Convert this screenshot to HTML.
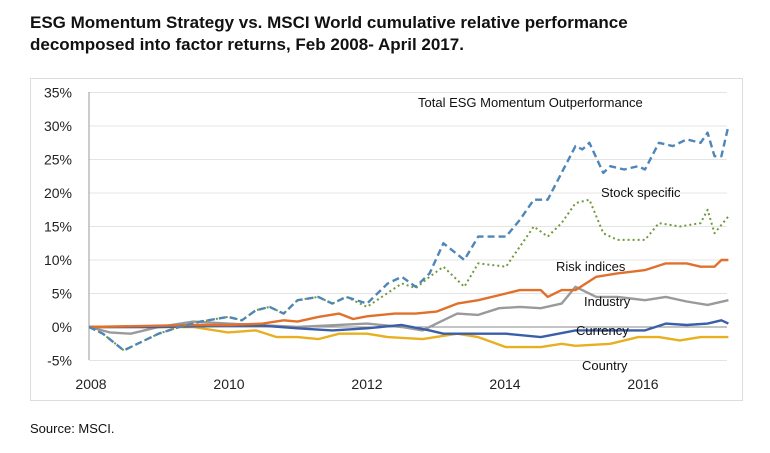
<!DOCTYPE html><html><head><style>
body{margin:0;background:#fff;width:770px;height:448px;overflow:hidden;font-family:"Liberation Sans",Arial,sans-serif}
</style></head><body>
<svg width="770" height="448" xmlns="http://www.w3.org/2000/svg" font-family="Liberation Sans, Arial, sans-serif">
<text x="30" y="28" font-size="17" font-weight="bold" fill="#111">ESG Momentum Strategy vs. MSCI World cumulative relative performance</text>
<text x="30" y="50" font-size="17" font-weight="bold" fill="#111">decomposed into factor returns, Feb 2008- April 2017.</text>
<rect x="30.5" y="78.5" width="712" height="322" fill="none" stroke="#ddd"/>
<g id="grid" stroke="#e4e4e4" stroke-width="1"></g>
<line x1="89" y1="92" x2="89" y2="360" stroke="#999"/>
<line x1="89" y1="327" x2="727" y2="327" stroke="#8a8a8a"/>
<g id="ylab" font-size="14" fill="#222" text-anchor="end"></g>
<g font-size="14" fill="#222" text-anchor="middle">
<text x="91" y="389">2008</text><text x="229" y="389">2010</text><text x="367" y="389">2012</text><text x="505" y="389">2014</text><text x="643" y="389">2016</text>
</g>
<g id="series" fill="none" stroke-linejoin="round"></g>
<g font-size="13" fill="#111">
<text x="418" y="107">Total ESG Momentum Outperformance</text>
<text x="601" y="197">Stock specific</text>
<text x="556" y="271">Risk indices</text>
<text x="584" y="306">Industry</text>
<text x="576" y="335">Currency</text>
<text x="582" y="370">Country</text>
</g>
<text x="30" y="433" font-size="13" fill="#111">Source: MSCI.</text>
</svg>
<script>
const NS="http://www.w3.org/2000/svg";
function py(v){return 327-6.7*v}
function px(t){return 89+69.5*(t-2008)}
const g=document.getElementById('grid'),yl=document.getElementById('ylab');
for(let v=35;v>=-5;v-=5){
 if(v!==0){const l=document.createElementNS(NS,'line');l.setAttribute('x1',89);l.setAttribute('x2',727);l.setAttribute('y1',py(v));l.setAttribute('y2',py(v));g.appendChild(l);}
 const t=document.createElementNS(NS,'text');t.setAttribute('x',72);t.setAttribute('y',py(v)+5);t.textContent=v+'%';yl.appendChild(t);
}
const S=[
["#e8b020",2.4,"",[2008,0,2009.5,0,2010,-0.8,2010.4,-0.5,2010.7,-1.5,2011,-1.5,2011.3,-1.8,2011.6,-1,2012,-1,2012.3,-1.5,2012.8,-1.8,2013.3,-1,2013.6,-1.5,2014,-3,2014.5,-3,2014.8,-2.5,2015,-2.8,2015.5,-2.5,2015.9,-1.5,2016.2,-1.5,2016.5,-2,2016.8,-1.5,2017,-1.5,2017.2,-1.5]],
["#9a9a9a",2.4,"",[2008,0,2008.3,-0.8,2008.6,-1,2009,0,2009.5,0.8,2010,0.5,2011,0,2012,0.5,2012.5,0,2012.8,-0.5,2013,0.5,2013.3,2,2013.6,1.8,2013.9,2.8,2014.2,3,2014.5,2.8,2014.8,3.5,2015,6,2015.3,4.5,2015.6,4.5,2016,4,2016.3,4.5,2016.6,3.8,2016.9,3.3,2017.2,4]],
["#3a5fa8",2.4,"",[2008,0,2009,0,2010,0.2,2010.5,0.2,2011,-0.2,2011.5,-0.5,2012,-0.2,2012.5,0.3,2012.9,-0.5,2013.1,-1,2013.5,-1,2014,-1,2014.5,-1.5,2015,-0.5,2015.5,-0.5,2016,-0.5,2016.3,0.5,2016.6,0.3,2016.9,0.5,2017.1,1,2017.2,0.5]],
["#e0702c",2.4,"",[2008,0,2009.5,0.3,2010,0.3,2010.5,0.5,2010.8,1,2011,0.8,2011.3,1.5,2011.6,2,2011.8,1.2,2012,1.6,2012.4,2,2012.7,2,2013,2.3,2013.3,3.5,2013.6,4,2014,5,2014.2,5.5,2014.5,5.5,2014.6,4.5,2014.8,5.5,2015,5.5,2015.3,7.5,2015.6,8,2016,8.5,2016.3,9.5,2016.6,9.5,2016.8,9,2017,9,2017.1,10,2017.2,10]],
["#6f9a3c",2,"2 3",[2008,0,2008.2,-1,2008.5,-3.5,2008.8,-2,2009,-1,2009.3,0,2009.6,0.8,2010,1.5,2010.2,1,2010.4,2.5,2010.6,3,2010.8,2,2011,4,2011.3,4.5,2011.5,3.5,2011.7,4.5,2012,3,2012.5,6.5,2012.7,5.8,2012.9,7.5,2013.1,9,2013.4,6,2013.6,9.5,2014,9,2014.2,12,2014.4,15,2014.6,13.5,2014.8,15.5,2015,18.5,2015.2,19,2015.4,14,2015.6,13,2015.8,13,2016,13,2016.2,15.5,2016.5,15,2016.8,15.5,2016.9,17.5,2017,14,2017.2,16.5]],
["#4f86b8",2.4,"7 4",[2008,0,2008.2,-1,2008.5,-3.5,2008.8,-2,2009,-1,2009.3,0,2009.6,0.8,2010,1.5,2010.2,1,2010.4,2.5,2010.6,3,2010.8,2,2011,4,2011.3,4.5,2011.5,3.5,2011.7,4.5,2012,3.5,2012.3,6.5,2012.5,7.5,2012.7,6,2012.9,8,2013.1,12.5,2013.4,10,2013.6,13.5,2014,13.5,2014.2,16,2014.4,19,2014.6,19,2014.8,23,2015,27,2015.1,26.5,2015.2,27.5,2015.4,23,2015.5,24,2015.7,23.5,2015.9,24,2016,23.5,2016.2,27.5,2016.4,27,2016.6,28,2016.8,27.5,2016.9,29,2017,25.5,2017.1,25.5,2017.2,30]]
];
const sg=document.getElementById('series');
S.forEach(([c,w,d,a])=>{let p=[];for(let i=0;i<a.length;i+=2)p.push(px(a[i]).toFixed(1)+','+py(a[i+1]).toFixed(1));
const l=document.createElementNS(NS,'polyline');l.setAttribute('points',p.join(' '));l.setAttribute('stroke',c);l.setAttribute('stroke-width',w);if(d)l.setAttribute('stroke-dasharray',d);sg.appendChild(l);});
</script>
</body></html>
